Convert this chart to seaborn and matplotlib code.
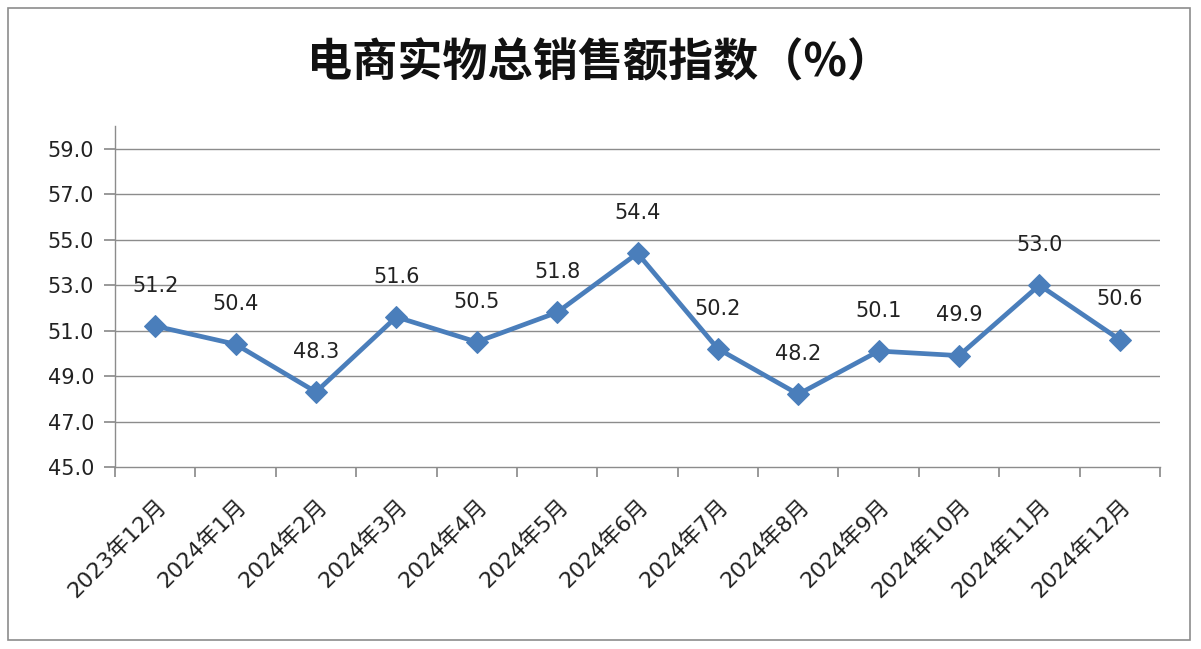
import matplotlib
matplotlib.use("Agg")
import matplotlib.pyplot as plt
import seaborn as sns
import pandas as pd
from matplotlib.patches import Rectangle

categories = ["2023年12月", "2024年1月", "2024年2月", "2024年3月", "2024年4月", "2024年5月",
              "2024年6月", "2024年7月", "2024年8月", "2024年9月", "2024年10月", "2024年11月", "2024年12月"]
values = [51.2, 50.4, 48.3, 51.6, 50.5, 51.8, 54.4, 50.2, 48.2, 50.1, 49.9, 53.0, 50.6]
yticks = [45.0, 47.0, 49.0, 51.0, 53.0, 55.0, 57.0, 59.0]
title = "电商实物总销售额指数（%）"

sns.set_theme(style="white")
plt.rcParams['font.family'] = ['DejaVu Sans', 'Noto Sans CJK SC']

df = pd.DataFrame({"pos": range(len(categories)), "value": values})

fig = plt.figure(figsize=(12.01, 6.49), dpi=100)
ax = fig.add_axes([115/1201, 1 - 467/649, (1160 - 115)/1201, (467 - 126)/649])

color = "#4A7EBB"
sns.lineplot(data=df, x="pos", y="value", ax=ax, color=color, linewidth=3.4,
             marker="D", markersize=11.5, markeredgecolor=color, markerfacecolor=color)

txt = "#222222"
ax.set_xlim(-0.5, len(categories) - 0.5)
ax.set_ylim(45, 60)
ax.set_yticks(yticks)
ax.set_yticklabels([f"{v:.1f}" for v in yticks], fontsize=15, color=txt)
ax.set_xticks([i - 0.5 for i in range(len(categories) + 1)], minor=False)
ax.set_xticklabels([])
ax.set_xticks(range(len(categories)), minor=True)
ax.set_xticklabels(categories, minor=True, rotation=45, ha="right", va="top",
                   rotation_mode="anchor", fontsize=16, color=txt)
ax.tick_params(axis="x", which="minor", length=0, pad=20)
ax.tick_params(axis="x", which="major", length=7, color="#8c8c8c", direction="out", bottom=True)
ax.tick_params(axis="y", length=8, color="#8c8c8c", direction="out", left=True, pad=7)
ax.set_xlabel("")
ax.set_ylabel("")

for y in yticks[1:]:
    ax.axhline(y, color="#8c8c8c", linewidth=1.0, zorder=0)

for s in ["top", "right"]:
    ax.spines[s].set_visible(False)
for s in ["left", "bottom"]:
    ax.spines[s].set_color("#8c8c8c")
    ax.spines[s].set_linewidth(1.0)

for i, v in enumerate(values):
    ax.annotate(f"{v:.1f}", (i, v), xytext=(0, 29), textcoords="offset points",
                ha="center", va="center", fontsize=15, color=txt)

fig.text(600/1201, 1 - 63/649, title, ha="center", va="center", fontsize=32.5,
         fontweight="bold", color="#111111", family=['Noto Sans CJK SC', 'DejaVu Sans'])

fig.patches.append(Rectangle((8/1201, 1 - 640/649), (1190 - 8)/1201, (640 - 8)/649,
                             transform=fig.transFigure, fill=False, edgecolor="#8c8c8c",
                             linewidth=1.2))

fig.savefig("out.png", dpi=100)
